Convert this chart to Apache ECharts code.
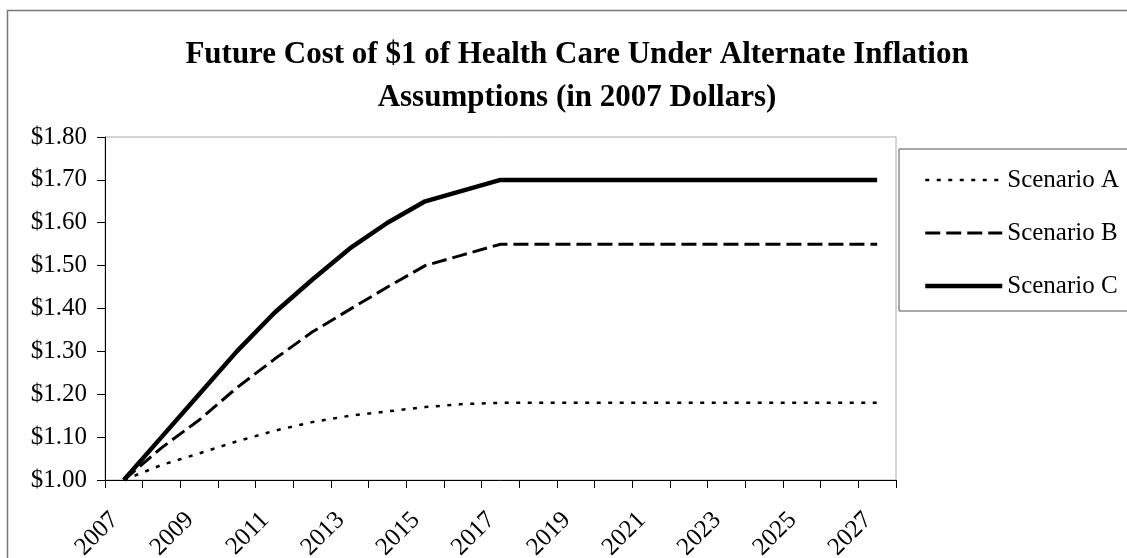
<!DOCTYPE html>
<html>
<head>
<meta charset="utf-8">
<script src="https://cdn.jsdelivr.net/npm/echarts@6/dist/echarts.min.js"></script>
<style>
html,body{margin:0;padding:0;background:#fff;}
#chart{width:1127px;height:558px;}
</style>
</head>
<body>
<div id="chart"></div>
<script>
const years = ['2007','2008','2009','2010','2011','2012','2013','2014','2015','2016','2017','2018','2019','2020','2021','2022','2023','2024','2025','2026','2027'];
const scenarioA = [1.00,1.035,1.062,1.09,1.115,1.135,1.15,1.16,1.17,1.177,1.18,1.18,1.18,1.18,1.18,1.18,1.18,1.18,1.18,1.18,1.18];
const scenarioB = [1.00,1.075,1.14,1.215,1.282,1.345,1.398,1.45,1.50,1.525,1.55,1.55,1.55,1.55,1.55,1.55,1.55,1.55,1.55,1.55,1.55];
const scenarioC = [1.00,1.10,1.20,1.30,1.39,1.467,1.54,1.60,1.65,1.675,1.70,1.70,1.70,1.70,1.70,1.70,1.70,1.70,1.70,1.70,1.70];
const seriesNames = ['Scenario A','Scenario B','Scenario C'];
const titleText = 'Future Cost of $1 of Health Care Under Alternate Inflation\nAssumptions (in 2007 Dollars)';

const FONT = 'Liberation Serif';
const chart = echarts.init(document.getElementById('chart'), null, {renderer:'canvas'});
chart.setOption({
  animation: false,
  backgroundColor: '#fff',
  title: {
    text: titleText,
    left: 572,
    textAlign: 'center',
    top: 28,
    textStyle: {fontFamily: FONT, fontWeight: 'bold', fontSize: 31, lineHeight: 43, color: '#000'}
  },
  graphic: [{
    type: 'rect', silent: true, z: 100,
    shape: {x: 7.5, y: 10.5, width: 1300, height: 700},
    style: {fill: 'none', stroke: '#777', lineWidth: 1.5}
  }],
  legend: {
    orient: 'vertical',
    left: 899, top: 149,
    padding: [16, 40, 10, 24],
    itemWidth: 77, itemHeight: 14, itemGap: 23,
    borderColor: '#555', borderWidth: 1,
    backgroundColor: '#fff',
    itemStyle: {opacity: 0},
    textStyle: {fontFamily: FONT, fontSize: 25, color: '#000', lineHeight: 30},
    data: [
      {name: seriesNames[0], lineStyle: {width: 2.5}},
      {name: seriesNames[1], lineStyle: {width: 3}},
      {name: seriesNames[2], lineStyle: {width: 4.5}}
    ]
  },
  grid: {left: 105, top: 137, right: 231, bottom: 78, show: true, borderColor: '#aaa', borderWidth: 1, containLabel: false, outerBoundsMode: 'none'},
  xAxis: {
    type: 'category',
    data: years,
    boundaryGap: true,
    axisLine: {lineStyle: {color: '#000', width: 1}},
    axisTick: {show: true, interval: 0, length: 8, lineStyle: {color: '#000'}},
    axisLabel: {interval: 1, rotate: 45, margin: 27, padding: [0, 13, 0, 0], fontFamily: FONT, fontSize: 25, color: '#000'},
    splitLine: {show: false}
  },
  yAxis: {
    type: 'value',
    min: 1.0, max: 1.8, interval: 0.1,
    axisLine: {show: true, lineStyle: {color: '#000', width: 1}},
    axisTick: {show: true, length: 8, lineStyle: {color: '#000'}},
    axisLabel: {margin: 18, fontFamily: FONT, fontSize: 25, color: '#000', formatter: v => '$' + v.toFixed(2)},
    splitLine: {show: false}
  },
  series: [
    {name: seriesNames[0], type: 'line', data: scenarioA, symbol: 'none', lineStyle: {color: '#000', width: 2.5, type: [4, 7.5]}, itemStyle: {color: '#000'}},
    {name: seriesNames[1], type: 'line', data: scenarioB, symbol: 'none', lineStyle: {color: '#000', width: 3, type: [15, 6]}, itemStyle: {color: '#000'}},
    {name: seriesNames[2], type: 'line', data: scenarioC, symbol: 'none', lineStyle: {color: '#000', width: 4.5}, itemStyle: {color: '#000'}}
  ]
});
</script>
</body>
</html>
